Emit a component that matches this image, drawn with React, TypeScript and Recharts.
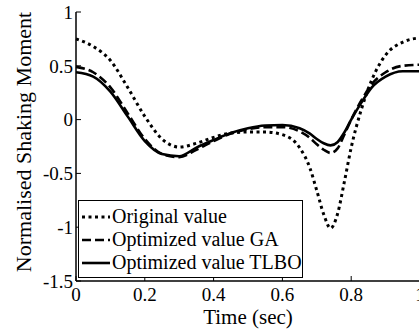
import { LineChart, Line, XAxis, YAxis, Legend, Label } from "recharts";

const FONT = '"Liberation Serif", "Times New Roman", serif';

// time (sec)
const time = [0, 0.05, 0.1, 0.15, 0.2, 0.25, 0.3, 0.35, 0.4, 0.45, 0.5, 0.55, 0.6, 0.65, 0.68, 0.7, 0.72, 0.74, 0.76, 0.78, 0.8, 0.83, 0.86, 0.9, 0.95, 1.0];
const original = [0.75, 0.68, 0.55, 0.3, 0.03, -0.18, -0.255, -0.22, -0.165, -0.125, -0.115, -0.115, -0.14, -0.26, -0.45, -0.66, -0.88, -1.01, -0.88, -0.58, -0.26, 0.1, 0.37, 0.6, 0.72, 0.76];
const optGA = [0.49, 0.44, 0.3, 0.06, -0.18, -0.32, -0.35, -0.28, -0.2, -0.13, -0.09, -0.07, -0.07, -0.11, -0.17, -0.23, -0.28, -0.31, -0.27, -0.14, 0.0, 0.18, 0.33, 0.44, 0.5, 0.51];
const optTLBO = [0.44, 0.4, 0.26, 0.03, -0.2, -0.32, -0.34, -0.26, -0.19, -0.125, -0.08, -0.055, -0.05, -0.08, -0.13, -0.18, -0.22, -0.24, -0.21, -0.12, 0.0, 0.16, 0.3, 0.4, 0.45, 0.45];

const xTicks = [0, 0.2, 0.4, 0.6, 0.8, 1];
const yTicks = [-1.5, -1, -0.5, 0, 0.5, 1];

const data = time.map((t, i) => ({ t, original: original[i], ga: optGA[i], tlbo: optTLBO[i] }));

const series = [
  { key: "original", name: "Original value", dash: "3 3.5", width: 3 },
  { key: "ga", name: "Optimized value GA", dash: "9 4", width: 2.6 },
  { key: "tlbo", name: "Optimized value TLBO", dash: undefined, width: 2.6 },
];

function InTick(props: any) {
  const { x, y, payload, side } = props;
  const v = payload.value;
  const common = { stroke: "#000", strokeWidth: 1 };
  if (side === "bottom")
    return (
      <g>
        <line x1={x} x2={x} y1={y} y2={y - 5} {...common} />
        <text x={x} y={y + 7} dy="0.71em" textAnchor="middle" fontSize={19} fontFamily={FONT} fill="#000">{String(v)}</text>
      </g>
    );
  if (side === "left")
    return (
      <g>
        <line x1={x} x2={x + 5} y1={y} y2={y} {...common} />
        <text x={x - 3} y={y} dy="0.355em" textAnchor="end" fontSize={19} fontFamily={FONT} fill="#000">{String(v)}</text>
      </g>
    );
  if (side === "top") return <line x1={x} x2={x} y1={y} y2={y + 5} {...common} />;
  return <line x1={x} x2={x - 5} y1={y} y2={y} {...common} />;
}

function LegendBox() {
  return (
    <div style={{ border: "1px solid #000", background: "#fff", padding: "4px 0 3px 2px", fontFamily: FONT, fontSize: 20, color: "#000" }}>
      {series.map((s) => (
        <div key={s.key} style={{ display: "flex", alignItems: "center", height: 23, whiteSpace: "nowrap" }}>
          <svg width={30} height={10} style={{ marginRight: 1 }}>
            <line x1={1} x2={29} y1={5} y2={5} stroke="#000" strokeWidth={s.width} strokeDasharray={s.dash} />
          </svg>
          <span>{s.name}</span>
        </div>
      ))}
    </div>
  );
}

export default function App() {
  return (
    <div style={{ position: "absolute", left: 0, top: 0, width: 419, height: 331, overflow: "hidden", background: "#fff" }}>
      <LineChart width={440} height={331} data={data} margin={{ top: 12, right: 20, left: 16, bottom: 0 }}>
        <XAxis
          dataKey="t"
          type="number"
          domain={[0, 1]}
          ticks={xTicks}
          height={50}
          tickSize={0}
          tickMargin={0}
          tickLine={false}
          tick={<InTick side="bottom" />}
          axisLine={{ stroke: "#000", strokeWidth: 1.5 }}
        >
          <Label
            content={() => (
              <text x={248} y={317} dy="0.355em" textAnchor="middle" fontSize={21} fontFamily={FONT} fill="#000">Time (sec)</text>
            )}
          />
        </XAxis>
        <XAxis
          xAxisId="top"
          orientation="top"
          dataKey="t"
          type="number"
          domain={[0, 1]}
          ticks={xTicks}
          height={0}
          tickSize={0}
          tickMargin={0}
          tickLine={false}
          tick={<InTick side="top" />}
          axisLine={{ stroke: "#000", strokeWidth: 1.5 }}
        />
        <YAxis
          type="number"
          domain={[-1.5, 1]}
          ticks={yTicks}
          width={60}
          tickSize={0}
          tickMargin={0}
          tickLine={false}
          tick={<InTick side="left" />}
          axisLine={{ stroke: "#000", strokeWidth: 1.5 }}
        >
          <Label
            content={() => (
              <text x={23} y={142} dy="0.355em" textAnchor="middle" transform="rotate(-90 23 142)" fontSize={22} fontFamily={FONT} fill="#000">
                Normalised Shaking Moment
              </text>
            )}
          />
        </YAxis>
        <YAxis
          yAxisId="right"
          orientation="right"
          type="number"
          domain={[-1.5, 1]}
          ticks={yTicks}
          width={0}
          tickSize={0}
          tickMargin={0}
          tickLine={false}
          tick={<InTick side="right" />}
          axisLine={{ stroke: "#000", strokeWidth: 1.5 }}
        />
        {series.map((s) => (
          <Line
            key={s.key}
            dataKey={s.key}
            name={s.name}
            type="monotone"
            stroke="#000"
            strokeWidth={s.width}
            strokeDasharray={s.dash}
            dot={false}
            activeDot={false}
            isAnimationActive={false}
          />
        ))}
        <Legend
          layout="vertical"
          align="center"
          verticalAlign="middle"
          content={<LegendBox />}
          wrapperStyle={{ left: 78, top: 200, width: 225 }}
        />
      </LineChart>
    </div>
  );
}
